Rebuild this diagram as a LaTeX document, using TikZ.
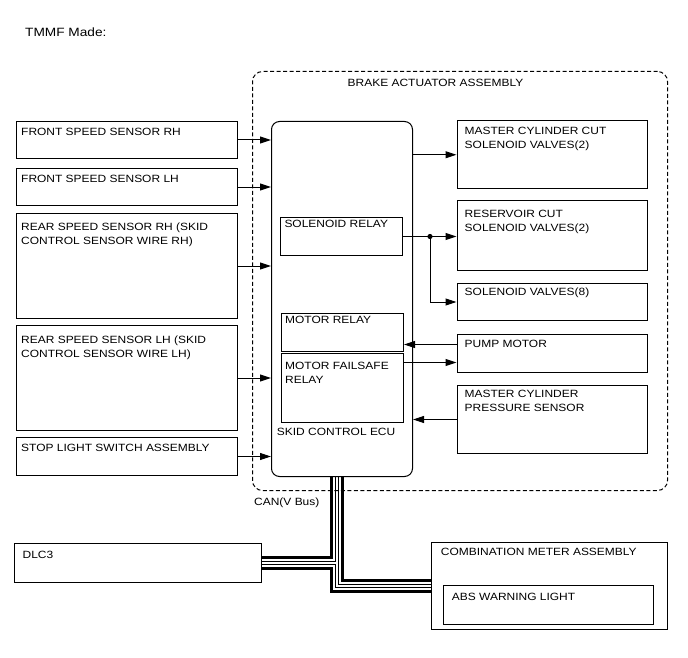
\documentclass[tikz,border=0pt]{standalone}
\usepackage{fontspec}
\setmainfont{Liberation Sans}[FakeStretch=1.14]
\usetikzlibrary{arrows.meta,backgrounds}
\tikzset{
  box/.style={draw, line width=1pt, rectangle, inner sep=0pt, anchor=north west},
  lbl/.style={inner sep=0pt, anchor=north west, align=left, font=\fontsize{10.5}{14}\selectfont},
  arr/.style={line width=1pt, -{Triangle[length=11pt,width=7pt]}},
  busA/.style={line width=13.4pt, black, line join=miter},
  busB/.style={line width=8.4pt, white, line join=miter},
  busC/.style={line width=4.4pt, black, line join=miter},
  busD/.style={line width=2pt, white, line join=miter},
}
\newcommand\mybox[6][]{\node[box,#1,minimum width=#5pt,minimum height=#6pt] (#2) at (#3,#4) {};}
\newcommand\buspaths[1]{\draw[#1] (bustop) |- (dlc.east); \draw[#1] (bustop) |- (meter.west);}
\begin{document}
\begin{tikzpicture}[x=1pt,y=-1pt]
\useasboundingbox (0,0) rectangle (688,658);
% title
\node[lbl, font=\fontsize{12}{14}\selectfont] (tmmf) at (25,27.3) {TMMF Made:};
% brake actuator dashed box
\mybox[dash pattern=on 4pt off 2.5pt, rounded corners=10pt]{brake}{252}{71}{415}{419}
\node[lbl] (brakelbl) at (347.5,79) {BRAKE ACTUATOR ASSEMBLY};
% left boxes
\mybox{frs}{15.5}{121}{221.5}{37}
\mybox{fls}{15.5}{168}{221.5}{37}
\mybox{rrs}{15.5}{213}{221.5}{105}
\mybox{rls}{15.5}{325}{221.5}{105}
\mybox{stp}{15.5}{437}{221.5}{38}
\node[lbl] at ([xshift=5.5pt,yshift=-6.7pt]frs.north west) {FRONT SPEED SENSOR RH};
\node[lbl] at ([xshift=5.5pt,yshift=-6.5pt]fls.north west) {FRONT SPEED SENSOR LH};
\node[lbl] at ([xshift=5.5pt,yshift=-9.5pt]rrs.north west) {REAR SPEED SENSOR RH (SKID\\CONTROL SENSOR WIRE RH)};
\node[lbl] at ([xshift=5.5pt,yshift=-11pt]rls.north west) {REAR SPEED SENSOR LH (SKID\\CONTROL SENSOR WIRE LH)};
\node[lbl] at ([xshift=5.5pt,yshift=-7pt]stp.north west) {STOP LIGHT SWITCH ASSEMBLY};
% ECU
\mybox[rounded corners=8pt]{ecu}{271}{121}{141}{355}
\mybox{sol}{280}{217}{122}{38}
\mybox{mr}{281}{313}{122}{38}
\mybox{mfs}{281}{353}{122}{69}
\node[lbl] at ([xshift=4.3pt,yshift=-2.5pt]sol.north west) {SOLENOID RELAY};
\node[lbl] at ([xshift=4pt,yshift=-3pt]mr.north west) {MOTOR RELAY};
\node[lbl] at ([xshift=4pt,yshift=-8.5pt]mfs.north west) {MOTOR FAILSAFE\\RELAY};
\node[lbl] (ecul) at (276.7,428.3) {SKID CONTROL ECU};
% right boxes
\mybox{mcc}{456.5}{120.5}{190.5}{67.5}
\mybox{res}{456.5}{200}{190.5}{70}
\mybox{sv8}{456.5}{283}{190.5}{37}
\mybox{pump}{456.5}{334}{190.5}{38}
\mybox{mps}{456.5}{385}{190.5}{68}
\node[lbl] at ([xshift=8pt,yshift=-6.5pt]mcc.north west) {MASTER CYLINDER CUT\\SOLENOID VALVES(2)};
\node[lbl] at ([xshift=8pt,yshift=-10pt]res.north west) {RESERVOIR CUT\\SOLENOID VALVES(2)};
\node[lbl] at ([xshift=8pt,yshift=-4.5pt]sv8.north west) {SOLENOID VALVES(8)};
\node[lbl] at ([xshift=8pt,yshift=-6pt]pump.north west) {PUMP MOTOR};
\node[lbl] at ([xshift=8pt,yshift=-5pt]mps.north west) {MASTER CYLINDER\\PRESSURE SENSOR};
% bottom boxes
\mybox{dlc}{13.5}{543}{247.5}{39}
\mybox{meter}{431}{542}{236}{87}
\mybox{abs}{443}{585}{210}{39}
\node[lbl] at ([xshift=9pt,yshift=-8pt]dlc.north west) {DLC3};
\node[lbl] at ([xshift=9.7pt,yshift=-6.3pt]meter.north west) {COMBINATION METER ASSEMBLY};
\node[lbl] at ([xshift=8.7pt,yshift=-8.3pt]abs.north west) {ABS WARNING LIGHT};
\node[lbl] (can) at (254,497.3) {CAN(V Bus)};
% arrows left -> ECU
\draw[arr] (frs.east) -- (frs.east -| ecu.west);
\draw[arr] (fls.east) -- (fls.east -| ecu.west);
\draw[arr] (rrs.east) -- (rrs.east -| ecu.west);
\draw[arr] (rls.east) -- (rls.east -| ecu.west);
\draw[arr] (stp.east) -- (stp.east -| ecu.west);
% right side
\draw[arr] (mcc.west -| ecu.east) -- (mcc.west);
\coordinate (j) at ([xshift=27pt]sol.east);
\draw[arr] (sol.east) -- (sol.east -| res.west);
\draw[arr] (j) |- (sv8.west);
\fill (j) circle (2.6pt);
\draw[arr] ([yshift=9pt]pump.west) -- ([yshift=9pt]pump.west -| mr.east);
\draw[arr] ([yshift=-9pt]pump.west -| mfs.east) -- ([yshift=-9pt]pump.west);
\draw[arr] (mps.west) -- (mps.west -| ecu.east);
% CAN bus
\coordinate (bustop) at ([xshift=-5pt]ecu.south);
\begin{scope}[on background layer]
\buspaths{busA}
\buspaths{busB}
\buspaths{busC}
\buspaths{busD}
\end{scope}
\end{tikzpicture}
\end{document}
